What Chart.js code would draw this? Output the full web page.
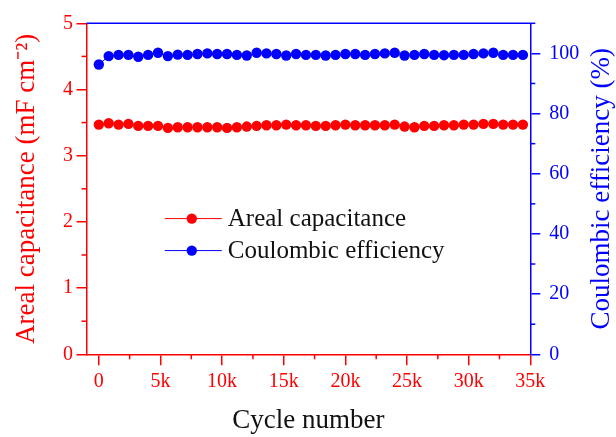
<!DOCTYPE html>
<html><head><meta charset="utf-8">
<script src="https://cdn.jsdelivr.net/npm/chart.js@4.4.0/dist/chart.umd.min.js"></script>
<style>html,body{margin:0;padding:0;background:#fff;overflow:hidden}#wrap{width:616px;height:437px;position:relative}</style>
</head><body><div id="wrap"><canvas id="c" width="616" height="437"></canvas></div>
<script>
const cycles = [0,800,1600,2400,3200,4000,4800,5600,6400,7200,8000,8800,9600,10400,11200,12000,12800,13600,14400,15200,16000,16800,17600,18400,19200,20000,20800,21600,22400,23200,24000,24800,25600,26400,27200,28000,28800,29600,30400,31200,32000,32800,33600,34400];
const arealCapacitance = [3.47,3.49,3.47,3.48,3.45,3.45,3.45,3.42,3.43,3.43,3.43,3.43,3.43,3.42,3.43,3.44,3.45,3.46,3.46,3.47,3.46,3.46,3.45,3.45,3.46,3.47,3.46,3.46,3.46,3.46,3.47,3.44,3.43,3.45,3.45,3.46,3.46,3.47,3.47,3.48,3.48,3.47,3.47,3.47];
const coulombicEfficiency = [96.3,99.1,99.5,99.5,98.9,99.5,100.2,99.1,99.6,99.5,99.8,100.0,99.8,99.8,99.5,99.3,100.2,100.0,99.8,99.3,99.8,99.5,99.5,99.3,99.5,99.8,99.8,99.5,99.8,100.0,100.2,99.3,99.5,99.8,99.5,99.4,99.5,99.5,99.8,100.0,100.2,99.5,99.5,99.5];
const xTickValues = [0,5000,10000,15000,20000,25000,30000,35000];
const xTickLabels = ['0','5k','10k','15k','20k','25k','30k','35k'];
const xMinorTicks = [2500,7500,12500,17500,22500,27500,32500];
const yLeftTicks = [0,1,2,3,4,5];
const yLeftMinor = [0.5,1.5,2.5,3.5,4.5];
const yRightTicks = [0,20,40,60,80,100];
const yRightMinor = [10,30,50,70,90,110];
const seriesLabels = ['Areal capacitance','Coulombic efficiency'];

const RED = '#ff0000', BLUE = '#0000ff';
const FONT = "'Liberation Serif', 'Times New Roman', serif";

const extras = {
  id: 'extras',
  afterDraw(chart) {
    const ctx = chart.ctx, a = chart.chartArea;
    const sx = chart.scales.x, sy = chart.scales.y, sy2 = chart.scales.y2;
    ctx.save();
    ctx.strokeStyle = BLUE; ctx.lineWidth = 1.5;
    ctx.beginPath(); ctx.moveTo(a.left, a.top); ctx.lineTo(a.right, a.top); ctx.stroke();
    ctx.strokeStyle = RED;
    yLeftMinor.forEach(v => { const p = sy.getPixelForValue(v); ctx.beginPath(); ctx.moveTo(a.left - 5, p); ctx.lineTo(a.left, p); ctx.stroke(); });
    xMinorTicks.forEach(v => { const p = sx.getPixelForValue(v); ctx.beginPath(); ctx.moveTo(p, a.bottom); ctx.lineTo(p, a.bottom + 5); ctx.stroke(); });
    ctx.strokeStyle = BLUE;
    yRightMinor.forEach(v => { const p = sy2.getPixelForValue(v); ctx.beginPath(); ctx.moveTo(a.right, p); ctx.lineTo(a.right + 5, p); ctx.stroke(); });
    ctx.fillStyle = BLUE; ctx.font = "27px " + FONT; ctx.textAlign = 'center'; ctx.textBaseline = 'middle';
    ctx.translate(sy2.right - 14, (a.top + a.bottom) / 2); ctx.rotate(-Math.PI / 2);
    ctx.fillText('Coulombic efficiency (%)', 0, 0);
    ctx.restore();
    ctx.save();
    const lx = sx.getPixelForValue(5350), ly = sy.getPixelForValue(2.05);
    chart.data.datasets.forEach((ds, i) => {
      const y = ly + i * 32;
      ctx.strokeStyle = ds.borderColor; ctx.lineWidth = 1;
      ctx.beginPath(); ctx.moveTo(lx, y); ctx.lineTo(lx + 57, y); ctx.stroke();
      ctx.fillStyle = ds.pointBackgroundColor;
      ctx.beginPath(); ctx.arc(lx + 27, y, 5.2, 0, Math.PI * 2); ctx.fill();
      ctx.fillStyle = '#111'; ctx.font = "25px " + FONT; ctx.textAlign = 'left'; ctx.textBaseline = 'middle';
      ctx.fillText(ds.label, lx + 63, y + 1);
    });
    ctx.restore();
  }
};

new Chart(document.getElementById('c'), {
  type: 'line',
  data: {
    datasets: [
      { label: seriesLabels[0], data: cycles.map((c, i) => ({x: c, y: arealCapacitance[i]})), yAxisID: 'y',
        borderColor: RED, backgroundColor: RED, pointBackgroundColor: RED, pointBorderColor: RED,
        borderWidth: 1, pointRadius: 5.2, pointBorderWidth: 0, pointHoverRadius: 5.2 },
      { label: seriesLabels[1], data: cycles.map((c, i) => ({x: c, y: coulombicEfficiency[i]})), yAxisID: 'y2',
        borderColor: BLUE, backgroundColor: BLUE, pointBackgroundColor: BLUE, pointBorderColor: BLUE,
        borderWidth: 1, pointRadius: 5.2, pointBorderWidth: 0, pointHoverRadius: 5.2 }
    ]
  },
  options: {
    responsive: false, animation: false, devicePixelRatio: 1,
    layout: { padding: { top: 23.3, left: 0, right: 0, bottom: 0 } },
    plugins: { legend: { display: false }, tooltip: { enabled: false } },
    scales: {
      x: {
        type: 'linear', position: 'bottom', min: -1000, max: 35000,
        afterFit: s => { s.height = 82.7; },
        afterBuildTicks: s => { s.ticks = xTickValues.map(v => ({ value: v })); },
        ticks: { color: RED, font: { family: FONT, size: 20 }, padding: 4, maxRotation: 0, autoSkip: false,
          callback: v => xTickLabels[xTickValues.indexOf(v)] },
        grid: { drawOnChartArea: false, drawTicks: true, tickLength: 11, color: RED, lineWidth: 1.5 },
        border: { display: true, color: RED, width: 1.5 },
        title: { display: true, text: 'Cycle number', color: '#111', font: { family: FONT, size: 27 }, padding: { top: 0, bottom: 0 } }
      },
      y: {
        type: 'linear', position: 'left', min: 0, max: 5,
        afterFit: s => { s.width = 86.5; },
        afterBuildTicks: s => { s.ticks = yLeftTicks.map(v => ({ value: v })); },
        ticks: { color: RED, font: { family: FONT, size: 20 }, padding: 3.5, callback: v => String(v) },
        grid: { drawOnChartArea: false, drawTicks: true, tickLength: 10, color: RED, lineWidth: 1.5 },
        border: { display: true, color: RED, width: 1.5 },
        title: { display: true, text: 'Areal capacitance (mF cm⁻²)', color: RED, font: { family: FONT, size: 27 }, padding: { top: 11, bottom: 0 } }
      },
      y2: {
        type: 'linear', position: 'right', min: 0, max: 110,
        afterFit: s => { s.width = 85.7; },
        afterBuildTicks: s => { s.ticks = yRightTicks.map(v => ({ value: v })); },
        ticks: { color: BLUE, font: { family: FONT, size: 20 }, padding: 9, callback: v => String(v) },
        grid: { drawOnChartArea: false, drawTicks: true, tickLength: 10, color: BLUE, lineWidth: 1.5 },
        border: { display: true, color: BLUE, width: 1.5 }
      }
    }
  },
  plugins: [extras]
});
</script></body></html>
